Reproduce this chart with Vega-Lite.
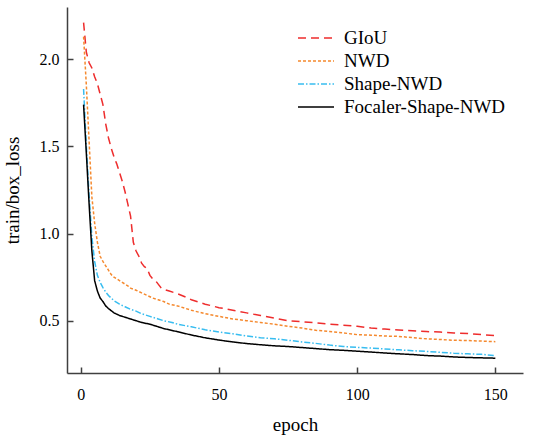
{
  "$schema": "https://vega.github.io/schema/vega-lite/v6.json",
  "autosize": {"type": "none"},
  "padding": {"left": 67, "top": 7, "right": 11, "bottom": 62},
  "width": 456,
  "height": 366,
  "background": "white",
  "config": {
    "view": {"stroke": null},
    "font": "Liberation Serif",
    "axis": {"grid": false, "domainColor": "#404040", "domainWidth": 1.5, "tickColor": "#404040", "tickWidth": 1.5, "tickSize": -6, "labelFont": "Liberation Serif", "labelFontSize": 16, "labelColor": "#000", "titleFont": "Liberation Serif", "titleFontSize": 19, "titleFontWeight": "normal", "titleColor": "#000"}
  },
  "datasets": {
    "loss": [
      {"epoch":1,"loss":2.21,"model":"GIoU"},{"epoch":2,"loss":2.04,"model":"GIoU"},{"epoch":3,"loss":1.98,"model":"GIoU"},{"epoch":4,"loss":1.95,"model":"GIoU"},{"epoch":5,"loss":1.90,"model":"GIoU"},{"epoch":6,"loss":1.86,"model":"GIoU"},{"epoch":7,"loss":1.80,"model":"GIoU"},{"epoch":8,"loss":1.74,"model":"GIoU"},{"epoch":9,"loss":1.63,"model":"GIoU"},{"epoch":10,"loss":1.55,"model":"GIoU"},{"epoch":11,"loss":1.49,"model":"GIoU"},{"epoch":12,"loss":1.44,"model":"GIoU"},{"epoch":13,"loss":1.40,"model":"GIoU"},{"epoch":14,"loss":1.35,"model":"GIoU"},{"epoch":15,"loss":1.30,"model":"GIoU"},{"epoch":16,"loss":1.24,"model":"GIoU"},{"epoch":17,"loss":1.17,"model":"GIoU"},{"epoch":18,"loss":1.10,"model":"GIoU"},{"epoch":19,"loss":0.95,"model":"GIoU"},{"epoch":20,"loss":0.90,"model":"GIoU"},{"epoch":21,"loss":0.87,"model":"GIoU"},{"epoch":22,"loss":0.83,"model":"GIoU"},{"epoch":23,"loss":0.81,"model":"GIoU"},{"epoch":24,"loss":0.80,"model":"GIoU"},{"epoch":25,"loss":0.76,"model":"GIoU"},{"epoch":26,"loss":0.74,"model":"GIoU"},{"epoch":27,"loss":0.73,"model":"GIoU"},{"epoch":28,"loss":0.71,"model":"GIoU"},{"epoch":29,"loss":0.69,"model":"GIoU"},{"epoch":30,"loss":0.68,"model":"GIoU"},{"epoch":32,"loss":0.67,"model":"GIoU"},{"epoch":35,"loss":0.655,"model":"GIoU"},{"epoch":38,"loss":0.635,"model":"GIoU"},{"epoch":40,"loss":0.62,"model":"GIoU"},{"epoch":45,"loss":0.595,"model":"GIoU"},{"epoch":50,"loss":0.575,"model":"GIoU"},{"epoch":55,"loss":0.56,"model":"GIoU"},{"epoch":60,"loss":0.545,"model":"GIoU"},{"epoch":65,"loss":0.53,"model":"GIoU"},{"epoch":70,"loss":0.515,"model":"GIoU"},{"epoch":75,"loss":0.50,"model":"GIoU"},{"epoch":80,"loss":0.494,"model":"GIoU"},{"epoch":85,"loss":0.488,"model":"GIoU"},{"epoch":90,"loss":0.48,"model":"GIoU"},{"epoch":95,"loss":0.474,"model":"GIoU"},{"epoch":100,"loss":0.468,"model":"GIoU"},{"epoch":105,"loss":0.458,"model":"GIoU"},{"epoch":110,"loss":0.452,"model":"GIoU"},{"epoch":115,"loss":0.447,"model":"GIoU"},{"epoch":120,"loss":0.442,"model":"GIoU"},{"epoch":125,"loss":0.438,"model":"GIoU"},{"epoch":130,"loss":0.435,"model":"GIoU"},{"epoch":135,"loss":0.43,"model":"GIoU"},{"epoch":140,"loss":0.427,"model":"GIoU"},{"epoch":145,"loss":0.42,"model":"GIoU"},{"epoch":150,"loss":0.414,"model":"GIoU"},

      {"epoch":1,"loss":2.13,"model":"NWD"},{"epoch":2,"loss":1.85,"model":"NWD"},{"epoch":3,"loss":1.53,"model":"NWD"},{"epoch":4,"loss":1.21,"model":"NWD"},{"epoch":5,"loss":1.06,"model":"NWD"},{"epoch":6,"loss":0.95,"model":"NWD"},{"epoch":7,"loss":0.87,"model":"NWD"},{"epoch":8,"loss":0.84,"model":"NWD"},{"epoch":9,"loss":0.815,"model":"NWD"},{"epoch":10,"loss":0.79,"model":"NWD"},{"epoch":11,"loss":0.765,"model":"NWD"},{"epoch":12,"loss":0.75,"model":"NWD"},{"epoch":13,"loss":0.74,"model":"NWD"},{"epoch":14,"loss":0.73,"model":"NWD"},{"epoch":15,"loss":0.72,"model":"NWD"},{"epoch":16,"loss":0.71,"model":"NWD"},{"epoch":17,"loss":0.70,"model":"NWD"},{"epoch":18,"loss":0.687,"model":"NWD"},{"epoch":20,"loss":0.675,"model":"NWD"},{"epoch":22,"loss":0.66,"model":"NWD"},{"epoch":24,"loss":0.645,"model":"NWD"},{"epoch":26,"loss":0.63,"model":"NWD"},{"epoch":28,"loss":0.62,"model":"NWD"},{"epoch":30,"loss":0.61,"model":"NWD"},{"epoch":32,"loss":0.595,"model":"NWD"},{"epoch":35,"loss":0.585,"model":"NWD"},{"epoch":40,"loss":0.56,"model":"NWD"},{"epoch":45,"loss":0.54,"model":"NWD"},{"epoch":50,"loss":0.525,"model":"NWD"},{"epoch":55,"loss":0.51,"model":"NWD"},{"epoch":60,"loss":0.50,"model":"NWD"},{"epoch":65,"loss":0.49,"model":"NWD"},{"epoch":70,"loss":0.48,"model":"NWD"},{"epoch":75,"loss":0.468,"model":"NWD"},{"epoch":80,"loss":0.458,"model":"NWD"},{"epoch":85,"loss":0.445,"model":"NWD"},{"epoch":90,"loss":0.438,"model":"NWD"},{"epoch":95,"loss":0.43,"model":"NWD"},{"epoch":100,"loss":0.42,"model":"NWD"},{"epoch":105,"loss":0.417,"model":"NWD"},{"epoch":110,"loss":0.412,"model":"NWD"},{"epoch":115,"loss":0.41,"model":"NWD"},{"epoch":120,"loss":0.403,"model":"NWD"},{"epoch":125,"loss":0.396,"model":"NWD"},{"epoch":130,"loss":0.392,"model":"NWD"},{"epoch":135,"loss":0.388,"model":"NWD"},{"epoch":140,"loss":0.386,"model":"NWD"},{"epoch":145,"loss":0.383,"model":"NWD"},{"epoch":150,"loss":0.38,"model":"NWD"},

      {"epoch":1,"loss":1.83,"model":"Shape-NWD"},{"epoch":2,"loss":1.50,"model":"Shape-NWD"},{"epoch":3,"loss":1.22,"model":"Shape-NWD"},{"epoch":4,"loss":0.98,"model":"Shape-NWD"},{"epoch":5,"loss":0.84,"model":"Shape-NWD"},{"epoch":6,"loss":0.76,"model":"Shape-NWD"},{"epoch":7,"loss":0.72,"model":"Shape-NWD"},{"epoch":8,"loss":0.69,"model":"Shape-NWD"},{"epoch":9,"loss":0.665,"model":"Shape-NWD"},{"epoch":10,"loss":0.645,"model":"Shape-NWD"},{"epoch":12,"loss":0.615,"model":"Shape-NWD"},{"epoch":14,"loss":0.595,"model":"Shape-NWD"},{"epoch":16,"loss":0.58,"model":"Shape-NWD"},{"epoch":18,"loss":0.565,"model":"Shape-NWD"},{"epoch":20,"loss":0.555,"model":"Shape-NWD"},{"epoch":22,"loss":0.54,"model":"Shape-NWD"},{"epoch":25,"loss":0.525,"model":"Shape-NWD"},{"epoch":28,"loss":0.51,"model":"Shape-NWD"},{"epoch":30,"loss":0.50,"model":"Shape-NWD"},{"epoch":33,"loss":0.49,"model":"Shape-NWD"},{"epoch":35,"loss":0.48,"model":"Shape-NWD"},{"epoch":40,"loss":0.465,"model":"Shape-NWD"},{"epoch":45,"loss":0.448,"model":"Shape-NWD"},{"epoch":50,"loss":0.435,"model":"Shape-NWD"},{"epoch":55,"loss":0.425,"model":"Shape-NWD"},{"epoch":60,"loss":0.412,"model":"Shape-NWD"},{"epoch":65,"loss":0.402,"model":"Shape-NWD"},{"epoch":70,"loss":0.396,"model":"Shape-NWD"},{"epoch":75,"loss":0.388,"model":"Shape-NWD"},{"epoch":80,"loss":0.378,"model":"Shape-NWD"},{"epoch":85,"loss":0.37,"model":"Shape-NWD"},{"epoch":90,"loss":0.36,"model":"Shape-NWD"},{"epoch":95,"loss":0.352,"model":"Shape-NWD"},{"epoch":100,"loss":0.347,"model":"Shape-NWD"},{"epoch":105,"loss":0.343,"model":"Shape-NWD"},{"epoch":110,"loss":0.338,"model":"Shape-NWD"},{"epoch":115,"loss":0.333,"model":"Shape-NWD"},{"epoch":120,"loss":0.328,"model":"Shape-NWD"},{"epoch":125,"loss":0.324,"model":"Shape-NWD"},{"epoch":130,"loss":0.319,"model":"Shape-NWD"},{"epoch":135,"loss":0.313,"model":"Shape-NWD"},{"epoch":140,"loss":0.31,"model":"Shape-NWD"},{"epoch":145,"loss":0.307,"model":"Shape-NWD"},{"epoch":150,"loss":0.30,"model":"Shape-NWD"},

      {"epoch":1,"loss":1.74,"model":"Focaler-Shape-NWD"},{"epoch":2,"loss":1.46,"model":"Focaler-Shape-NWD"},{"epoch":3,"loss":1.17,"model":"Focaler-Shape-NWD"},{"epoch":4,"loss":0.90,"model":"Focaler-Shape-NWD"},{"epoch":5,"loss":0.73,"model":"Focaler-Shape-NWD"},{"epoch":6,"loss":0.67,"model":"Focaler-Shape-NWD"},{"epoch":7,"loss":0.63,"model":"Focaler-Shape-NWD"},{"epoch":8,"loss":0.61,"model":"Focaler-Shape-NWD"},{"epoch":9,"loss":0.585,"model":"Focaler-Shape-NWD"},{"epoch":10,"loss":0.57,"model":"Focaler-Shape-NWD"},{"epoch":12,"loss":0.545,"model":"Focaler-Shape-NWD"},{"epoch":14,"loss":0.53,"model":"Focaler-Shape-NWD"},{"epoch":16,"loss":0.52,"model":"Focaler-Shape-NWD"},{"epoch":18,"loss":0.51,"model":"Focaler-Shape-NWD"},{"epoch":20,"loss":0.50,"model":"Focaler-Shape-NWD"},{"epoch":22,"loss":0.49,"model":"Focaler-Shape-NWD"},{"epoch":25,"loss":0.48,"model":"Focaler-Shape-NWD"},{"epoch":28,"loss":0.465,"model":"Focaler-Shape-NWD"},{"epoch":30,"loss":0.455,"model":"Focaler-Shape-NWD"},{"epoch":35,"loss":0.437,"model":"Focaler-Shape-NWD"},{"epoch":40,"loss":0.418,"model":"Focaler-Shape-NWD"},{"epoch":45,"loss":0.402,"model":"Focaler-Shape-NWD"},{"epoch":50,"loss":0.389,"model":"Focaler-Shape-NWD"},{"epoch":55,"loss":0.378,"model":"Focaler-Shape-NWD"},{"epoch":60,"loss":0.369,"model":"Focaler-Shape-NWD"},{"epoch":65,"loss":0.362,"model":"Focaler-Shape-NWD"},{"epoch":70,"loss":0.356,"model":"Focaler-Shape-NWD"},{"epoch":75,"loss":0.352,"model":"Focaler-Shape-NWD"},{"epoch":80,"loss":0.346,"model":"Focaler-Shape-NWD"},{"epoch":85,"loss":0.34,"model":"Focaler-Shape-NWD"},{"epoch":90,"loss":0.334,"model":"Focaler-Shape-NWD"},{"epoch":95,"loss":0.33,"model":"Focaler-Shape-NWD"},{"epoch":100,"loss":0.325,"model":"Focaler-Shape-NWD"},{"epoch":105,"loss":0.32,"model":"Focaler-Shape-NWD"},{"epoch":110,"loss":0.315,"model":"Focaler-Shape-NWD"},{"epoch":115,"loss":0.31,"model":"Focaler-Shape-NWD"},{"epoch":120,"loss":0.306,"model":"Focaler-Shape-NWD"},{"epoch":125,"loss":0.30,"model":"Focaler-Shape-NWD"},{"epoch":130,"loss":0.297,"model":"Focaler-Shape-NWD"},{"epoch":135,"loss":0.292,"model":"Focaler-Shape-NWD"},{"epoch":140,"loss":0.289,"model":"Focaler-Shape-NWD"},{"epoch":145,"loss":0.287,"model":"Focaler-Shape-NWD"},{"epoch":150,"loss":0.285,"model":"Focaler-Shape-NWD"}
    ]
  },
  "data": {"name": "loss"},
  "mark": {"type": "line", "strokeWidth": 1.5},
  "encoding": {
    "x": {"field": "epoch", "type": "quantitative", "title": "epoch",
      "scale": {"domain": [-5, 160], "nice": false, "zero": false},
      "axis": {"values": [0, 50, 100, 150], "labelPadding": 19, "titlePadding": 13}},
    "y": {"field": "loss", "type": "quantitative", "title": "train/box_loss",
      "scale": {"domain": [0.2, 2.3], "nice": false, "zero": false},
      "axis": {"values": [0.5, 1.0, 1.5, 2.0], "format": ".1f", "labelPadding": 14, "titlePadding": 17}},
    "color": {"field": "model", "type": "nominal",
      "scale": {"domain": ["GIoU", "NWD", "Shape-NWD", "Focaler-Shape-NWD"], "range": ["#ee2d2d", "#f5892e", "#38bdf0", "#000000"]},
      "legend": {"title": null, "orient": "none", "legendX": 238, "legendY": 20, "symbolType": "M-1.8,0H1.8", "symbolSize": 400, "symbolStrokeWidth": 1.5, "labelFont": "Liberation Serif", "labelFontSize": 19, "labelFontWeight": "normal", "labelColor": "#000", "labelOffset": 17, "labelLimit": 400, "rowPadding": 2, "padding": 0,
        "encode": {"symbols": {"update": {"strokeDash": {"scale": "strokeDash", "field": "value"}}}}}},
    "strokeDash": {"field": "model", "type": "nominal",
      "scale": {"domain": ["GIoU", "NWD", "Shape-NWD", "Focaler-Shape-NWD"], "range": [[8, 5], [3, 2], [6, 2, 1.5, 2], [1, 0]]},
      "legend": null}
  }
}
